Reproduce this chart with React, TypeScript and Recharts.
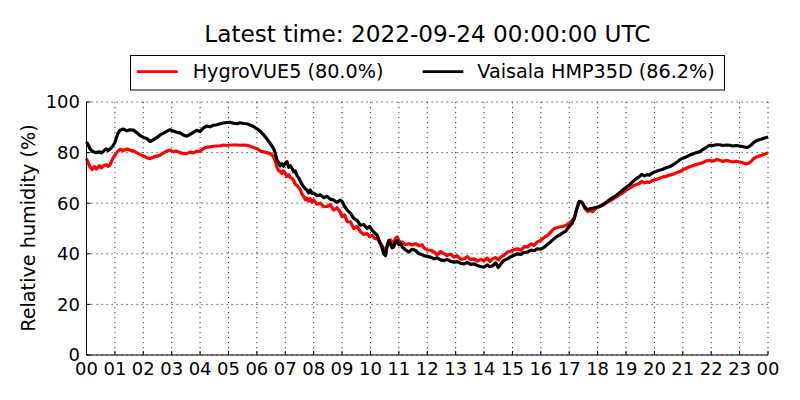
import React from 'react';
import { LineChart, Line, XAxis, YAxis, CartesianGrid } from 'recharts';

const hours = [
  0.0, 0.06, 0.12, 0.2, 0.28, 0.35, 0.45, 0.52, 0.59, 0.7, 0.76, 0.82, 0.92, 1.0, 1.1, 1.18, 1.3, 1.42, 1.53, 1.65,
  1.76, 1.88, 2.0, 2.12, 2.24, 2.35, 2.47, 2.59, 2.7, 2.82, 2.94, 3.05, 3.18, 3.29, 3.41, 3.53, 3.65, 3.76, 3.88, 4.0,
  4.12, 4.24, 4.35, 4.47, 4.59, 4.7, 4.82, 4.94, 5.05, 5.18, 5.3, 5.41, 5.53, 5.65, 5.76, 5.88, 6.0, 6.12, 6.24, 6.35,
  6.47, 6.59, 6.65, 6.71, 6.76, 6.82, 6.88, 6.94, 7.0, 7.06, 7.12, 7.18, 7.24, 7.3, 7.35, 7.41, 7.47, 7.53, 7.59, 7.65,
  7.71, 7.76, 7.82, 7.88, 7.94, 8.0, 8.12, 8.24, 8.35, 8.47, 8.59, 8.7, 8.82, 8.94, 9.0, 9.09, 9.18, 9.3, 9.41, 9.53,
  9.65, 9.76, 9.88, 9.97, 10.06, 10.15, 10.24, 10.32, 10.4, 10.47, 10.53, 10.59, 10.65, 10.71, 10.76, 10.82, 10.88, 10.94, 11.0, 11.06,
  11.12, 11.24, 11.35, 11.47, 11.59, 11.7, 11.82, 11.88, 12.0, 12.12, 12.24, 12.35, 12.47, 12.6, 12.7, 12.82, 12.94, 13.06, 13.18, 13.3,
  13.41, 13.53, 13.65, 13.76, 13.88, 14.0, 14.12, 14.2, 14.3, 14.41, 14.5, 14.59, 14.7, 14.82, 14.94, 15.06, 15.18, 15.3, 15.41, 15.53,
  15.65, 15.76, 15.88, 16.0, 16.12, 16.24, 16.35, 16.47, 16.53, 16.65, 16.76, 16.88, 17.0, 17.1, 17.18, 17.27, 17.35, 17.41, 17.47, 17.55,
  17.65, 17.74, 17.82, 17.94, 18.06, 18.18, 18.29, 18.41, 18.53, 18.65, 18.76, 18.88, 19.0, 19.12, 19.24, 19.35, 19.47, 19.55, 19.65, 19.74,
  19.82, 19.94, 20.06, 20.18, 20.3, 20.41, 20.53, 20.65, 20.76, 20.88, 21.0, 21.12, 21.24, 21.35, 21.47, 21.59, 21.7, 21.82, 21.94, 22.06,
  22.18, 22.3, 22.41, 22.53, 22.65, 22.76, 22.88, 23.0, 23.12, 23.24, 23.3, 23.41, 23.5, 23.6, 23.76, 23.88, 24.0,
];

const vaisalaHMP35D = [
  84.2, 83.0, 81.6, 80.5, 80.2, 80.0, 80.3, 79.8, 80.5, 81.5, 80.8, 81.3, 82.5, 84.0, 87.5, 88.8, 89.3, 88.6, 89.0, 88.9,
  88.0, 86.8, 86.0, 85.6, 84.4, 85.0, 85.9, 87.0, 87.6, 88.4, 89.0, 88.5, 88.0, 87.8, 87.0, 86.5, 87.2, 88.0, 88.8, 88.4,
  89.8, 90.5, 90.2, 90.8, 91.0, 91.4, 91.7, 91.9, 92.0, 91.6, 91.4, 91.8, 91.5, 91.4, 90.9, 90.3, 89.4, 88.4, 87.0, 85.5,
  83.6, 81.6, 79.5, 77.0, 76.3, 74.8, 75.6, 74.6, 75.7, 76.4, 74.2, 74.8, 73.7, 72.4, 72.8, 71.0, 70.0, 68.7, 67.4, 66.5,
  65.6, 65.3, 64.1, 65.2, 63.9, 64.0, 63.0, 63.3, 62.2, 62.7, 61.5, 61.3, 60.3, 61.2, 60.7, 58.7, 57.3, 56.0, 54.0, 53.2,
  51.3, 51.6, 50.0, 50.8, 49.3, 48.3, 47.3, 44.8, 42.7, 40.0, 39.3, 43.5, 45.3, 43.8, 42.4, 42.7, 44.5, 45.3, 43.6, 44.2,
  42.7, 41.5, 40.7, 41.8, 41.3, 40.1, 39.6, 39.3, 39.0, 38.7, 38.0, 38.4, 37.6, 37.3, 37.8, 37.0, 36.7, 36.9, 36.2, 36.0,
  36.6, 35.8, 36.0, 35.4, 35.0, 34.7, 35.6, 34.9, 35.3, 36.4, 34.6, 36.0, 37.4, 38.0, 38.8, 39.4, 40.0, 39.8, 40.6, 40.7,
  41.5, 41.2, 42.0, 41.8, 42.6, 43.8, 44.8, 46.0, 46.6, 47.4, 48.2, 49.0, 50.8, 52.0, 54.0, 57.8, 60.7, 60.4, 60.0, 58.4,
  57.4, 57.8, 58.0, 58.3, 58.7, 59.4, 60.3, 61.3, 62.2, 63.0, 64.0, 65.2, 66.2, 67.2, 68.5, 69.6, 70.5, 71.4, 70.8, 71.3,
  71.1, 72.0, 72.5, 73.0, 73.4, 74.0, 74.4, 75.1, 76.0, 77.0, 77.8, 78.3, 79.0, 79.4, 80.0, 80.3, 81.2, 82.0, 82.9, 82.8,
  83.1, 83.1, 82.8, 83.0, 82.9, 82.6, 82.8, 82.6, 82.3, 82.0, 82.2, 83.0, 84.0, 84.8, 85.3, 85.8, 86.2,
];

const hygroVUE5 = [
  77.6, 76.0, 74.4, 73.3, 74.5, 73.5, 74.8, 74.0, 74.8, 75.2, 74.6, 75.0, 77.5, 79.0, 80.5, 81.3, 80.8, 81.4, 81.0, 80.7,
  80.0, 79.3, 78.7, 78.0, 77.6, 78.2, 78.6, 79.0, 79.8, 80.6, 81.0, 80.4, 80.6, 80.0, 79.6, 79.6, 80.2, 79.9, 80.5, 80.6,
  81.6, 82.2, 82.3, 82.5, 82.6, 82.6, 83.0, 82.8, 83.0, 83.0, 83.0, 82.9, 83.0, 82.9, 82.5, 82.0, 81.6, 80.6, 80.3, 80.0,
  79.6, 78.3, 76.5, 74.0, 73.0, 72.6, 71.7, 72.8, 71.8, 70.6, 71.3, 70.1, 69.8, 68.9, 67.4, 67.0, 66.2, 65.3, 63.6, 62.6,
  61.4, 62.0, 60.8, 61.8, 60.4, 61.3, 59.6, 60.0, 58.6, 58.7, 59.4, 57.3, 58.2, 56.4, 54.7, 55.4, 52.7, 52.6, 50.0, 50.8,
  48.7, 47.6, 48.0, 46.8, 47.3, 46.0, 46.0, 44.6, 43.3, 42.0, 41.3, 43.0, 44.0, 45.5, 44.0, 44.7, 46.0, 46.7, 45.2, 44.2,
  44.7, 43.6, 44.0, 43.5, 44.0, 43.2, 43.6, 42.4, 41.5, 41.4, 40.7, 39.6, 40.9, 40.0, 39.3, 39.9, 38.7, 39.2, 37.8, 38.0,
  38.9, 37.7, 38.0, 37.1, 37.8, 37.3, 38.3, 36.9, 38.0, 38.5, 37.6, 38.7, 39.4, 40.7, 41.0, 41.6, 42.0, 41.4, 42.8, 42.7,
  43.9, 43.3, 44.7, 45.3, 46.5, 47.3, 48.6, 50.0, 50.2, 50.6, 50.8, 51.2, 52.2, 53.0, 54.4, 58.0, 60.4, 60.7, 60.0, 57.9,
  56.7, 57.2, 56.7, 58.0, 58.7, 59.2, 60.0, 60.7, 61.6, 62.4, 63.3, 64.0, 65.2, 65.9, 66.8, 67.3, 67.8, 68.6, 68.0, 68.4,
  68.2, 69.0, 69.4, 69.8, 70.4, 70.6, 71.1, 71.4, 72.0, 72.4, 73.2, 73.8, 74.4, 74.8, 75.3, 75.7, 76.0, 76.7, 77.0, 76.6,
  77.2, 77.0, 76.5, 77.0, 76.6, 76.3, 76.6, 76.3, 76.0, 75.5, 75.7, 76.6, 77.6, 78.3, 78.9, 79.4, 80.0,
];

const xTicks = [0, 1, 2, 3, 4, 5, 6, 7, 8, 9, 10, 11, 12, 13, 14, 15, 16, 17, 18, 19, 20, 21, 22, 23, 24];
const yTicks = [0, 20, 40, 60, 80, 100];

const titleText = 'Latest time: 2022-09-24 00:00:00 UTC';
const hygroLabel = 'HygroVUE5 (80.0%)';
const vaisalaLabel = 'Vaisala HMP35D (86.2%)';
const yLabel = 'Relative humidity (%)';

const data = hours.map((h, i) => ({ h, hygro: hygroVUE5[i], vaisala: vaisalaHMP35D[i] }));

const FONT = '"DejaVu Sans", sans-serif';
const tickStyle = { fontSize: 18, fill: '#000', fontFamily: FONT };

export default function App() {
  return (
    <div style={{ position: 'relative', width: 800, height: 400, margin: -8, background: '#fff', fontFamily: FONT }}>
      <LineChart
        width={800}
        height={400}
        data={data}
        margin={{ top: 102, right: 32, bottom: 15, left: 26.5 }}
      >
        <CartesianGrid stroke="#000" strokeWidth={0.8} strokeDasharray="1.2 3.8" />
        <XAxis
          dataKey="h"
          type="number"
          domain={[0, 24]}
          ticks={xTicks}
          interval={0}
          height={30}
          tickFormatter={(v: number) => String(v % 24).padStart(2, '0')}
          tick={tickStyle}
          tickSize={-4}
          tickMargin={11}
          stroke="#000"
          axisLine={{ stroke: '#000', strokeWidth: 1 }}
          tickLine={{ stroke: '#000' }}
        />
        <XAxis
          xAxisId="top"
          orientation="top"
          dataKey="h"
          type="number"
          domain={[0, 24]}
          ticks={xTicks}
          interval={0}
          height={0}
          tick={false}
          tickSize={-4}
          axisLine={{ stroke: '#000', strokeWidth: 1 }}
          tickLine={{ stroke: '#000' }}
        />
        <YAxis
          type="number"
          domain={[0, 100]}
          ticks={yTicks}
          interval={0}
          width={60}
          tick={tickStyle}
          tickSize={-4}
          tickMargin={10.5}
          axisLine={{ stroke: '#000', strokeWidth: 1 }}
          tickLine={{ stroke: '#000' }}
        />
        <YAxis
          yAxisId="right"
          orientation="right"
          type="number"
          domain={[0, 100]}
          ticks={yTicks}
          interval={0}
          width={0}
          tick={false}
          tickSize={-4}
          axisLine={{ stroke: '#000', strokeWidth: 1 }}
          tickLine={{ stroke: '#000' }}
        />
        <Line
          type="linear"
          dataKey="hygro"
          stroke="#ff0000"
          strokeWidth={3.2}
          strokeLinejoin="round"
          dot={false}
          isAnimationActive={false}
        />
        <Line
          type="linear"
          dataKey="vaisala"
          stroke="#000000"
          strokeWidth={3.2}
          strokeLinejoin="round"
          dot={false}
          isAnimationActive={false}
        />
      </LineChart>
      <svg
        width={800}
        height={400}
        style={{ position: 'absolute', left: 0, top: 0, pointerEvents: 'none' }}
      >
        <text x={427.4} y={41.7} textAnchor="middle" fontSize={23.2} fontFamily={FONT} fill="#000">
          {titleText}
        </text>
        <rect x={130.5} y={55.5} width={594} height={34.5} fill="#fff" stroke="#000" strokeWidth={1} />
        <line x1={136.7} y1={71.7} x2={177.7} y2={71.7} stroke="#ff0000" strokeWidth={2.8} />
        <text x={192.7} y={78.3} fontSize={19.2} fontFamily={FONT} fill="#000">
          {hygroLabel}
        </text>
        <line x1={422.7} y1={71.7} x2={463.3} y2={71.7} stroke="#000" strokeWidth={2.8} />
        <text x={477.3} y={78.3} fontSize={19.2} fontFamily={FONT} fill="#000">
          {vaisalaLabel}
        </text>
        <text
          transform="translate(35, 228) rotate(-90)"
          textAnchor="middle"
          fontSize={19.2}
          fontFamily={FONT}
          fill="#000"
        >
          {yLabel}
        </text>
      </svg>
    </div>
  );
}
